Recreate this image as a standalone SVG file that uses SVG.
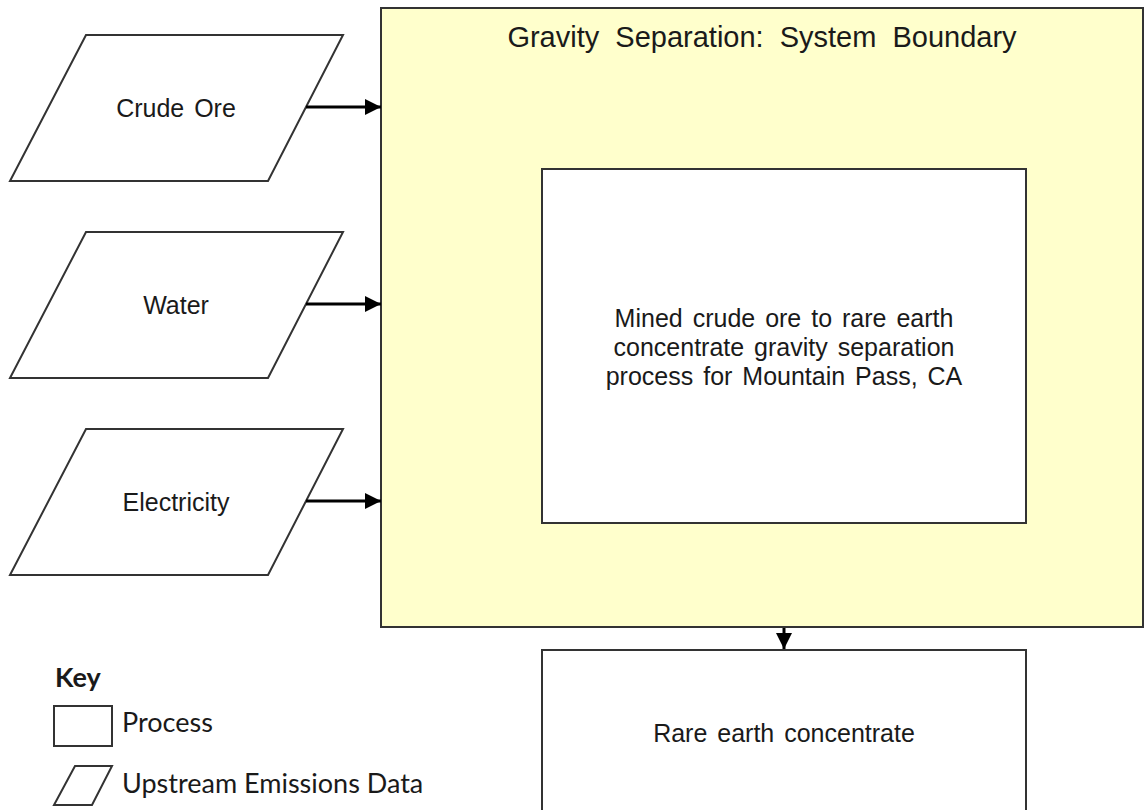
<svg xmlns="http://www.w3.org/2000/svg" width="1145" height="810" viewBox="0 0 1145 810">
  <style>
    .shape { fill: #ffffff; stroke: #333333; stroke-width: 2; }
    .boundary { fill: #ffffcc; stroke: #333333; stroke-width: 2; }
    .label { font-family: "Liberation Sans", Arial, sans-serif; font-size: 25px; fill: #1a1a1a; text-anchor: middle; word-spacing: 3px; }
    .title { font-family: "Liberation Sans", Arial, sans-serif; font-size: 29px; fill: #1a1a1a; text-anchor: middle; word-spacing: 8px; }
    .key { font-family: Lato, "Open Sans", sans-serif; font-size: 27px; fill: #1a1a1a; }
    .flow { stroke: #000000; stroke-width: 3; fill: none; }
  </style>
  <defs>
    <marker id="arrow" viewBox="0 0 10 10" refX="10" refY="5" markerWidth="5.5" markerHeight="6.5" markerUnits="strokeWidth" orient="auto">
      <path d="M0,0 L10,5 L0,10 Z" fill="#000000"/>
    </marker>
  </defs>

  <rect width="1145" height="810" fill="#ffffff"/>

  <!-- System boundary -->
  <g id="boundary">
    <rect class="boundary" x="381" y="8" width="762" height="619"/>
    <text class="title" x="762" y="47">Gravity Separation: System Boundary</text>
  </g>

  <!-- Process inside the boundary -->
  <g id="process">
    <rect class="shape" x="542" y="169" width="484" height="354" stroke-width="2.5"/>
    <text class="label" x="784" y="327">Mined crude ore to rare earth</text>
    <text class="label" x="784" y="356">concentrate gravity separation</text>
    <text class="label" x="784" y="385">process for Mountain Pass, CA</text>
  </g>

  <!-- Upstream inputs -->
  <g id="crude-ore">
    <polygon class="shape" points="86,35 343,35 268,181 10,181" stroke-width="1.6"/>
    <text class="label" x="176" y="117">Crude Ore</text>
  </g>
  <g id="water">
    <polygon class="shape" points="86,232 343,232 268,378 10,378" stroke-width="1.6"/>
    <text class="label" x="176" y="314">Water</text>
  </g>
  <g id="electricity">
    <polygon class="shape" points="86,429 343,429 268,575 10,575" stroke-width="1.6"/>
    <text class="label" x="176" y="511">Electricity</text>
  </g>

  <!-- Product -->
  <g id="product">
    <rect class="shape" x="542" y="650" width="484" height="180"/>
    <text class="label" x="784" y="742">Rare earth concentrate</text>
  </g>

  <!-- Flows -->
  <g id="connectors">
    <line class="flow" x1="306" y1="107" x2="381" y2="107" marker-end="url(#arrow)"/>
    <line class="flow" x1="306" y1="304" x2="381" y2="304" marker-end="url(#arrow)"/>
    <line class="flow" x1="306" y1="501" x2="381" y2="501" marker-end="url(#arrow)"/>
    <line class="flow" x1="784" y1="628" x2="784" y2="649" stroke-width="2.5" marker-end="url(#arrow)"/>
  </g>

  <!-- Legend -->
  <g id="key">
    <text class="key" x="55" y="687" font-weight="bold">Key</text>
    <rect class="shape" x="54" y="706" width="58" height="40"/>
    <text class="key" x="122" y="732">Process</text>
    <polygon class="shape" points="75,766 112,766 92,805 54,805" stroke-width="1.6"/>
    <text class="key" x="122" y="793">Upstream Emissions Data</text>
  </g>
</svg>
